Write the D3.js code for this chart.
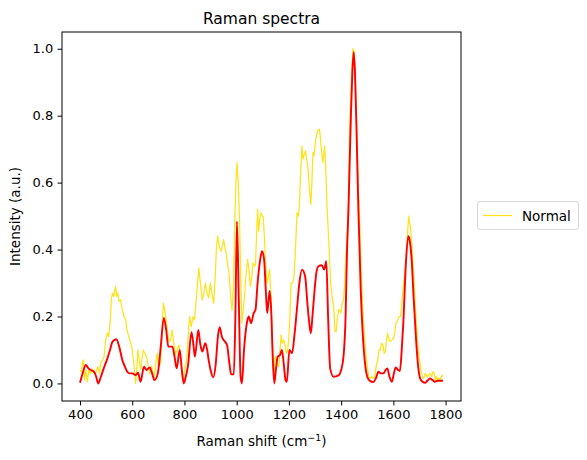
<!DOCTYPE html>
<html>
<head>
<meta charset="utf-8">
<script src="https://cdn.jsdelivr.net/npm/d3@7"></script>
<style>
  html, body { margin: 0; padding: 0; background: #fff; }
  svg { display: block; font-family: "DejaVu Sans", sans-serif; }
</style>
</head>
<body>
<svg id="chart" width="587" height="460"></svg>
<script>
// ---- data ----
const redShift = [400,410,422,432,441,454,462,470,480,493,505,515,524,539,550,562,572,581,590,600,613,622,632,645,655,667,676,685,698,708,721,730,738,754,762,770,782,790,797,805,813,827,835,840,853,860,868,880,887,893,900,910,920,928,935,943,950,963,972,979,989,995,1001,1008,1015,1020,1028,1040,1046,1055,1065,1072,1080,1090,1097,1105,1112,1117,1126,1132,1138,1144,1150,1157,1166,1173,1180,1187,1192,1202,1212,1222,1231,1240,1250,1262,1271,1278,1284,1290,1298,1305,1313,1326,1335,1343,1350,1358,1371,1390,1400,1409,1417,1422,1428,1437,1443,1448,1453,1460,1466,1475,1485,1493,1500,1510,1523,1533,1543,1552,1562,1570,1577,1585,1594,1602,1609,1618,1625,1632,1638,1648,1657,1662,1670,1678,1687,1695,1702,1712,1721,1730,1740,1750,1759,1768,1778,1790];
const redIntensity = [0.002,0.03,0.055,0.045,0.04,0.035,0.02,0.0,0.02,0.05,0.075,0.1,0.124,0.132,0.11,0.07,0.05,0.035,0.03,0.03,0.025,0.032,0.005,0.05,0.04,0.048,0.03,0.01,0.03,0.1,0.196,0.16,0.11,0.11,0.08,0.045,0.1,0.04,0.0,0.02,0.05,0.153,0.11,0.08,0.16,0.12,0.095,0.12,0.1,0.068,0.04,0.018,0.06,0.14,0.168,0.14,0.13,0.115,0.06,0.027,0.027,0.2,0.484,0.25,0.02,0.0,0.1,0.185,0.2,0.18,0.21,0.22,0.3,0.37,0.395,0.37,0.27,0.21,0.276,0.22,0.08,0.0,0.04,0.08,0.085,0.1,0.06,0.01,0.005,0.1,0.09,0.15,0.225,0.3,0.34,0.32,0.237,0.18,0.15,0.2,0.276,0.33,0.35,0.353,0.34,0.365,0.2,0.045,0.02,0.024,0.04,0.08,0.2,0.38,0.52,0.79,0.93,0.99,0.93,0.72,0.52,0.28,0.12,0.05,0.02,0.008,0.004,0.015,0.035,0.03,0.03,0.04,0.045,0.02,0.005,0.03,0.048,0.04,0.037,0.1,0.18,0.36,0.44,0.43,0.37,0.25,0.13,0.05,0.016,0.005,0.002,0.008,0.015,0.01,0.005,0.008,0.008,0.008];

const normalShift = [400,405,410,413,418,423,428,434,440,447,453,460,468,474,479,486,492,498,505,510,516,520,524,530,536,541,545,549,555,562,568,575,580,588,595,600,606,613,618,622,627,632,637,642,648,655,661,667,675,683,690,695,701,708,714,719,724,728,734,740,747,753,759,766,772,779,786,791,795,800,808,814,820,826,833,838,842,848,855,861,868,874,880,886,893,899,905,912,918,922,927,933,940,945,950,956,961,966,970,976,982,988,993,997,1001,1006,1011,1016,1020,1025,1030,1036,1042,1047,1052,1058,1063,1068,1072,1076,1080,1084,1088,1093,1097,1101,1106,1110,1116,1121,1126,1131,1135,1142,1148,1154,1161,1166,1170,1175,1180,1185,1190,1195,1199,1204,1208,1213,1218,1224,1231,1236,1240,1245,1250,1254,1257,1263,1268,1272,1278,1284,1288,1292,1296,1301,1306,1310,1317,1321,1324,1330,1337,1342,1346,1351,1356,1360,1364,1371,1377,1381,1384,1390,1394,1399,1404,1409,1414,1419,1424,1428,1432,1438,1445,1450,1455,1460,1465,1470,1477,1485,1493,1501,1506,1511,1518,1524,1528,1534,1540,1545,1550,1555,1560,1565,1569,1574,1578,1583,1589,1595,1601,1605,1610,1617,1622,1627,1632,1637,1643,1650,1655,1659,1662,1665,1670,1675,1681,1687,1693,1700,1706,1711,1716,1722,1729,1735,1742,1747,1752,1757,1761,1766,1770,1774,1779,1784,1787,1790];
const normalIntensity = [0.04,0.035,0.065,0.07,0.01,0.04,0.005,0.04,0.03,0.045,0.03,0.03,0.05,0.03,0.06,0.07,0.08,0.13,0.15,0.14,0.19,0.25,0.27,0.26,0.29,0.26,0.27,0.245,0.25,0.22,0.2,0.19,0.16,0.135,0.12,0.1,0.06,0.0,0.05,0.1,0.07,0.04,0.07,0.1,0.09,0.08,0.05,0.03,0.05,0.01,0.06,0.09,0.05,0.06,0.15,0.24,0.22,0.2,0.16,0.125,0.13,0.16,0.12,0.085,0.1,0.115,0.07,0.03,0.005,0.04,0.07,0.14,0.2,0.17,0.2,0.19,0.22,0.28,0.345,0.3,0.25,0.27,0.3,0.27,0.255,0.3,0.27,0.24,0.32,0.4,0.44,0.41,0.395,0.41,0.43,0.4,0.385,0.35,0.335,0.27,0.218,0.3,0.5,0.6,0.66,0.6,0.485,0.3,0.18,0.22,0.26,0.33,0.37,0.34,0.29,0.32,0.36,0.35,0.355,0.44,0.52,0.455,0.49,0.51,0.5,0.5,0.44,0.37,0.3,0.32,0.34,0.26,0.17,0.02,0.08,0.06,0.05,0.1,0.145,0.12,0.13,0.115,0.09,0.1,0.13,0.2,0.3,0.3,0.31,0.38,0.51,0.5,0.53,0.63,0.71,0.67,0.68,0.695,0.67,0.65,0.59,0.535,0.6,0.69,0.68,0.72,0.74,0.755,0.76,0.73,0.7,0.66,0.71,0.62,0.53,0.45,0.37,0.3,0.27,0.23,0.155,0.155,0.185,0.22,0.22,0.21,0.24,0.25,0.3,0.385,0.46,0.53,0.74,0.88,1.0,0.99,0.9,0.74,0.6,0.5,0.33,0.19,0.1,0.045,0.02,0.015,0.02,0.015,0.02,0.05,0.07,0.1,0.1,0.12,0.115,0.09,0.095,0.13,0.15,0.13,0.125,0.13,0.135,0.15,0.18,0.19,0.2,0.2,0.24,0.28,0.32,0.38,0.46,0.5,0.48,0.47,0.42,0.36,0.28,0.19,0.12,0.07,0.04,0.02,0.015,0.03,0.02,0.025,0.03,0.02,0.035,0.03,0.01,0.02,0.005,0.015,0.01,0.02,0.025,0.02];

const xTicks = [400, 600, 800, 1000, 1200, 1400, 1600, 1800];
const yTicks = [0.0, 0.2, 0.4, 0.6, 0.8, 1.0];
const legendLabels = ["Normal"];

// ---- layout ----
const svg = d3.select("#chart");
const plot = { left: 62, top: 32, right: 461, bottom: 401 };
const x = d3.scaleLinear().domain([331, 1859]).range([plot.left, plot.right]);
const y = d3.scaleLinear().domain([-0.0525, 1.05]).range([plot.bottom, plot.top]);

const yellowColor = "#FFE31A";
const redColor = "#FF0000";
const fsTick = 13;
const fsLabel = 13.5;

const clipId = "plotclip";
svg.append("clipPath").attr("id", clipId).append("rect")
  .attr("x", plot.left).attr("y", plot.top)
  .attr("width", plot.right - plot.left).attr("height", plot.bottom - plot.top);

const g = svg.append("g").attr("clip-path", `url(#${clipId})`);

const normalData = normalShift.map((s, i) => [s, normalIntensity[i]]);
const redData = redShift.map((s, i) => [s, redIntensity[i]]);

g.append("path")
  .datum(normalData)
  .attr("fill", "none")
  .attr("stroke", yellowColor)
  .attr("stroke-width", 1.25)
  .attr("stroke-linejoin", "round")
  .attr("d", d3.line().x(d => x(d[0])).y(d => y(d[1])));

g.append("path")
  .datum(redData)
  .attr("fill", "none")
  .attr("stroke", redColor)
  .attr("stroke-width", 1.9)
  .attr("stroke-linejoin", "round")
  .attr("d", d3.line().curve(d3.curveMonotoneX).x(d => x(d[0])).y(d => y(d[1])));

// axes
const xAxis = svg.append("g")
  .attr("transform", `translate(0,${plot.bottom})`)
  .call(d3.axisBottom(x).tickValues(xTicks).tickFormat(d3.format("d")).tickSize(4.4).tickPadding(4.2));
const yAxis = svg.append("g")
  .attr("transform", `translate(${plot.left},0)`)
  .call(d3.axisLeft(y).tickValues(yTicks).tickFormat(d3.format(".1f")).tickSize(4.4).tickPadding(4.4));

[xAxis, yAxis].forEach(a => {
  a.select(".domain").remove();
  a.selectAll(".tick line").attr("stroke", "#000").attr("stroke-width", 1);
  a.selectAll(".tick text").attr("fill", "#000").style("font-size", fsTick + "px")
    .style("font-family", '"DejaVu Sans", sans-serif');
});

// frame
svg.append("rect")
  .attr("x", plot.left).attr("y", plot.top)
  .attr("width", plot.right - plot.left).attr("height", plot.bottom - plot.top)
  .attr("fill", "none").attr("stroke", "#000").attr("stroke-width", 1);

// title & labels
const cx = (plot.left + plot.right) / 2;
svg.append("text").attr("x", cx).attr("y", 24)
  .attr("text-anchor", "middle").style("font-size", "15.5px").text("Raman spectra");

const xl = svg.append("text").attr("x", cx).attr("y", 446)
  .attr("text-anchor", "middle").style("font-size", fsLabel + "px");
xl.append("tspan").text("Raman shift (cm");
xl.append("tspan").text("\u22121").attr("dy", -5.5).style("font-size", "9.5px");
xl.append("tspan").text(")").attr("dy", 5.5);

svg.append("text")
  .attr("transform", `translate(20,${(plot.top + plot.bottom) / 2}) rotate(-90)`)
  .attr("text-anchor", "middle").style("font-size", fsLabel + "px").text("Intensity (a.u.)");

// legend
const lg = svg.append("g");
lg.append("rect").attr("x", 477.5).attr("y", 201.5).attr("width", 101).attr("height", 28)
  .attr("rx", 2.5).attr("fill", "#fff").attr("stroke", "#d6d6d6").attr("stroke-width", 1);
legendLabels.forEach((lab, i) => {
  lg.append("line").attr("x1", 483).attr("x2", 512).attr("y1", 215.5 + i * 18).attr("y2", 215.5 + i * 18)
    .attr("stroke", yellowColor).attr("stroke-width", 1.25);
  lg.append("text").attr("x", 522).attr("y", 220.5 + i * 18).style("font-size", fsLabel + "px").text(lab);
});
</script>
</body>
</html>
